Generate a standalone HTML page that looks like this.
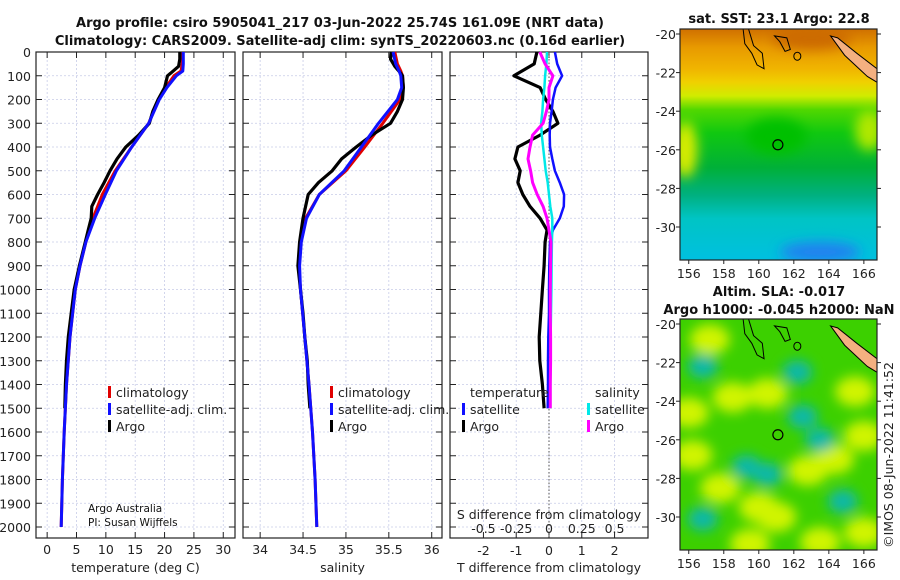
<!DOCTYPE html>
<html><head><meta charset="utf-8"><style>
html,body{margin:0;padding:0;background:#fff;}
svg{display:block;font-family:"DejaVu Sans","Liberation Sans",sans-serif;}
.t{font-size:12.5px;fill:#222;}
.b{font-weight:bold;font-size:13px;fill:#111;}
</style></head><body>
<svg id="fig" width="900" height="580" viewBox="0 0 900 580" xmlns="http://www.w3.org/2000/svg">
<defs>
<filter id="blur" x="-50%" y="-50%" width="200%" height="200%"><feGaussianBlur stdDeviation="6"/></filter>
<linearGradient id="sstg" x1="0" y1="0" x2="0" y2="1">
<stop offset="0" stop-color="#d07000"/><stop offset="0.08" stop-color="#e89a00"/>
<stop offset="0.17" stop-color="#f0b400"/><stop offset="0.23" stop-color="#f0d000"/><stop offset="0.29" stop-color="#d0ec00"/>
<stop offset="0.35" stop-color="#50d800"/><stop offset="0.45" stop-color="#10c810"/>
<stop offset="0.6" stop-color="#00b038"/><stop offset="0.72" stop-color="#00b080"/>
<stop offset="0.82" stop-color="#00c4c4"/><stop offset="1" stop-color="#00c0e0"/>
</linearGradient>
<clipPath id="c1"><rect x="680" y="29" width="197" height="231"/></clipPath>
<clipPath id="c2"><rect x="680" y="319" width="197" height="231"/></clipPath>
</defs>
<text class="b" x="340" y="27" text-anchor="middle">Argo profile: csiro 5905041_217 03-Jun-2022 25.74S 161.09E (NRT data)</text>
<text class="b" x="340" y="45" text-anchor="middle">Climatology: CARS2009. Satellite-adj clim: synTS_20220603.nc (0.16d earlier)</text>
<g id="panels"></g>
<g id="maps"></g>
<text class="t" transform="translate(893,455) rotate(-90)" text-anchor="middle">©IMOS 08-Jun-2022 11:41:52</text>
</svg>
<script>
// ---- data ----
const depthTicks=[0,100,200,300,400,500,600,700,800,900,1000,1100,1200,1300,1400,1500,1600,1700,1800,1900,2000];
const tTicks=[0,5,10,15,20,25,30];
const sTicks=[34,34.5,35,35.5,36];
const dTicks=[-2,-1,0,1,2];
const sdTicks=[-0.5,-0.25,0,0.25,0.5];
const climDepth=[0,50,80,100,150,200,300,400,500,600,700,800,900,1000,1200,1400,1600,1800,2000];
const climT=[23.0,23.0,22.8,21.6,20.2,19.0,17.3,14.4,11.6,9.4,7.8,6.6,5.6,4.8,3.9,3.3,2.9,2.6,2.4];
const satT=[23.2,23.2,23.1,22.0,20.4,19.1,17.3,14.4,11.8,9.9,8.1,6.6,5.6,4.8,3.9,3.3,2.9,2.6,2.4];
const climS=[35.57,35.6,35.64,35.66,35.67,35.63,35.43,35.22,35.0,34.69,34.53,34.47,34.45,34.47,34.52,34.57,34.61,34.64,34.66];
const satS=[35.55,35.58,35.62,35.64,35.65,35.6,35.38,35.18,34.98,34.69,34.54,34.48,34.46,34.47,34.52,34.57,34.61,34.64,34.66];
const argoDepth=[0,30,60,90,100,150,200,250,300,350,400,450,500,550,600,650,700,750,800,900,1000,1100,1200,1300,1400,1500];
const argoT=[22.6,22.6,22.4,21.0,20.5,20.0,18.9,18.0,17.4,15.6,13.4,11.9,10.7,9.7,8.6,7.6,7.5,7.0,6.5,5.5,4.6,4.1,3.6,3.3,3.1,3.0];
const argoS=[35.53,35.52,35.57,35.64,35.66,35.67,35.66,35.6,35.52,35.3,35.12,34.95,34.84,34.68,34.56,34.53,34.5,34.48,34.46,34.44,34.47,34.5,34.52,34.55,34.56,34.58];
const diffDepth=[0,50,100,150,200,250,300,350,400,450,500,550,600,650,700,750,800,900,1000,1100,1200,1300,1400,1500];
const argoTd=[-0.37,-0.45,-1.07,-0.27,-0.1,0.12,0.27,-0.27,-0.95,-1.04,-0.88,-0.95,-0.8,-0.58,-0.27,-0.06,-0.12,-0.15,-0.2,-0.25,-0.3,-0.28,-0.2,-0.15];
const satTd=[0.18,0.25,0.4,0.2,0.12,0.08,0.03,0.02,0.03,0.1,0.18,0.33,0.46,0.45,0.33,0.12,0.03,0.01,0.0,0.0,-0.02,-0.03,-0.03,-0.04];
const satSd=[-0.015,-0.02,-0.03,-0.035,-0.045,-0.05,-0.06,-0.055,-0.045,-0.035,-0.025,-0.01,0,0.01,0.025,0.025,0.022,0.02,0.018,0.015,0.012,0.012,0.01,0.01];
const argoSd=[-0.07,-0.03,0.03,0.0,0.0,-0.02,-0.045,-0.125,-0.145,-0.16,-0.14,-0.125,-0.09,-0.045,-0.015,0.0,0.015,0.012,0.01,0.01,0.012,0.012,0.01,0.01];
const lonTicks=[156,158,160,162,164,166];
const latTicks=[-20,-22,-24,-26,-28,-30];
const argoPos=[161.09,-25.74];

const NS="http://www.w3.org/2000/svg";
function el(tag,attrs,parent){const e=document.createElementNS(NS,tag);for(const k in attrs)e.setAttribute(k,attrs[k]);parent.appendChild(e);return e;}
const P=document.getElementById('panels');
const Y0=52,YPX=0.2375;
const yD=d=>Y0+d*YPX;
const TOP=52,BOT=538;
const panels=[
 {x0:36,x1:235,vmin:-1.9,vmax:32,ticks:tTicks,label:'temperature (deg C)',name:'temperature-panel'},
 {x0:243,x1:442,vmin:33.8,vmax:36.12,ticks:sTicks,label:'salinity',name:'salinity-panel'},
 {x0:450,x1:648,vmin:-3.02,vmax:3.02,ticks:dTicks,label:'T difference from climatology',name:'difference-panel'}
];
function axis(p){return v=>p.x0+(v-p.vmin)/(p.vmax-p.vmin)*(p.x1-p.x0);}
function line(g,xs,ds,sx,color,w,name){
  const pts=xs.map((v,i)=>sx(v).toFixed(1)+','+yD(ds[i]).toFixed(1)).join(' ');
  const e=el('polyline',{points:pts,fill:'none',stroke:color,'stroke-width':w,'stroke-linejoin':'round'},g);
  
  
  return e;
}
panels.forEach((p,pi)=>{
  const g=el('g',{},P);
  
  
  const sx=axis(p);
  depthTicks.forEach(d=>{el('line',{x1:p.x0,x2:p.x1,y1:yD(d),y2:yD(d),stroke:'#c8cce8','stroke-width':0.8,'stroke-dasharray':'2,2'},g);
    el('line',{x1:p.x0,x2:p.x0+6,y1:yD(d),y2:yD(d),stroke:'#222'},g);el('line',{x1:p.x1-6,x2:p.x1,y1:yD(d),y2:yD(d),stroke:'#222'},g);});
  p.ticks.forEach(v=>{el('line',{x1:sx(v),x2:sx(v),y1:TOP,y2:BOT,stroke:'#c8cce8','stroke-width':0.8,'stroke-dasharray':'2,2'},g);
    el('line',{x1:sx(v),x2:sx(v),y1:BOT-6,y2:BOT,stroke:'#222'},g);el('line',{x1:sx(v),x2:sx(v),y1:TOP,y2:TOP+6,stroke:'#222'},g);
    const t=el('text',{x:sx(v),y:pi==2?555:554,'text-anchor':'middle',class:'t'},g);t.textContent=String(v);
    
    
  });
  el('rect',{x:p.x0,y:TOP,width:p.x1-p.x0,height:BOT-TOP,fill:'none',stroke:'#222','stroke-width':1.2},g);
  const lab=el('text',{x:(p.x0+p.x1)/2,y:572,'text-anchor':'middle',class:'t'},g);lab.textContent=p.label;
  
  
  if(pi==0){
    depthTicks.forEach(d=>{const t=el('text',{x:31,y:yD(d)+5,'text-anchor':'end',class:'t'},g);t.textContent=String(d);
      
      });
    line(g,climT,climDepth,sx,'#e00000',3,'climatology-temperature-line');
    line(g,argoT,argoDepth,sx,'#000',3.2,'argo-temperature-line');
    line(g,satT,climDepth,sx,'#1010ff',3,'satellite-temperature-line');
  } else if(pi==1){
    line(g,climS,climDepth,sx,'#e00000',3,'climatology-salinity-line');
    line(g,argoS,argoDepth,sx,'#000',3.2,'argo-salinity-line');
    line(g,satS,climDepth,sx,'#1010ff',3,'satellite-salinity-line');
  } else {
    el('line',{x1:sx(0),x2:sx(0),y1:TOP,y2:BOT,stroke:'#555','stroke-dasharray':'1.5,2'},g);
    line(g,argoTd,diffDepth,sx,'#000',3.2,'argo-temperature-difference-line');
    line(g,satTd,diffDepth,sx,'#1010ff',2.5,'satellite-temperature-difference-line');
    line(g,satSd.map(v=>v*4),diffDepth,sx,'#00e8e8',2.5,'satellite-salinity-difference-line');
    line(g,argoSd.map(v=>v*4),diffDepth,sx,'#ff00ff',3,'argo-salinity-difference-line');
    sdTicks.forEach(v=>{const t=el('text',{x:sx(v*4),y:533,'text-anchor':'middle',class:'t'},g);t.textContent=String(v);
      
      });
    const st=el('text',{x:(p.x0+p.x1)/2,y:519,'text-anchor':'middle',class:'t'},g);st.textContent='S difference from climatology';
    
    
  }
});
function legend(x,y,items,name){
  const g=el('g',{},P);
  
  
  items.forEach((it,i)=>{const yy=y+i*17;
    if(it[1])el('rect',{x:x,y:yy-11,width:3,height:12,fill:it[1]},g);
    const t=el('text',{x:x+(it[1]?8:0),y:yy,class:'t'},g);t.textContent=it[0];});
}
legend(108,397,[['climatology','#e00000'],['satellite-adj. clim.','#1010ff'],['Argo','#000']],'temperature-legend');
legend(330,397,[['climatology','#e00000'],['satellite-adj. clim.','#1010ff'],['Argo','#000']],'salinity-legend');
legend(470,397,[['temperature',null]],'diff-legend-temperature-title');
legend(462,414,[['satellite','#1010ff'],['Argo','#000']],'diff-legend-temperature');
legend(595,397,[['salinity',null]],'diff-legend-salinity-title');
legend(587,414,[['satellite','#00e8e8'],['Argo','#ff00ff']],'diff-legend-salinity');
const cr=el('text',{x:88,y:512,style:'font-size:10.5px;fill:#111'},P);cr.textContent='Argo Australia';


const cr2=el('text',{x:88,y:526,style:'font-size:10.5px;fill:#111'},P);cr2.textContent='PI: Susan Wijffels';



// ---- maps ----
const M=document.getElementById('maps');
const lonMin=155.5,lonMax=166.75;
const yellowBlobs=[[157.2,-20.8],[158.5,-23.8],[160.5,-23.6],[165.5,-23.5],[156.2,-26.8],[157.8,-28.5],[162.8,-27.6],[164.3,-27.0],[160,-29.5],[166,-30.8],[156,-24.6],[163.5,-31.3],[159.5,-31.4],[166,-25.8],[161,-30]];
const tealBlobs=[[156.8,-22.2],[162.2,-22.5],[162.5,-24.8],[159.3,-27.4],[156.8,-30.1],[164.8,-29.2],[163.5,-26],[160.5,-27.8]];
function drawMap(top,title1,title2,kind,name){
  const g=el('g',{},M);
  
  
  const x0=680,x1=877,y0=top,y1=top+231;
  const lx=v=>x0+(v-lonMin)/(lonMax-lonMin)*(x1-x0);
  const ly=v=>(y0+5)+(-20-v)*19.3;
  const clip=kind=='sst'?'url(#c1)':'url(#c2)';
  const inner=el('g',{'clip-path':clip},g);
  if(kind=='sst'){
    el('rect',{x:x0,y:y0,width:x1-x0,height:y1-y0,fill:'url(#sstg)'},inner);
    const b=el('g',{filter:'url(#blur)'},inner);
    el('ellipse',{cx:lx(155.8),cy:ly(-26),rx:12,ry:28,fill:'#d8ec00'},b);
    el('ellipse',{cx:lx(166.3),cy:ly(-25),rx:14,ry:20,fill:'#b0e800'},b);
    el('ellipse',{cx:lx(161),cy:ly(-25.3),rx:30,ry:18,fill:'#00c000'},b);
    el('ellipse',{cx:lx(163.5),cy:ly(-31.3),rx:40,ry:10,fill:'#2080f0'},b);
    el('ellipse',{cx:lx(163),cy:ly(-20.2),rx:40,ry:12,fill:'#cc6a00'},b);
  } else {
    el('rect',{x:x0,y:y0,width:x1-x0,height:y1-y0,fill:'#3cd000'},inner);
    const b=el('g',{filter:'url(#blur)'},inner);
    yellowBlobs.forEach(p=>el('ellipse',{cx:lx(p[0]),cy:ly(p[1]),rx:20,ry:15,fill:'#d0f400'},b));
    tealBlobs.forEach(p=>el('ellipse',{cx:lx(p[0]),cy:ly(p[1]),rx:15,ry:12,fill:'#10b8a8'},b));
  }
  el('path',{d:`M${lx(164.1)} ${ly(-20.1)} L${lx(164.5)} ${ly(-20.2)} L${lx(165.6)} ${ly(-21)} L${lx(166.75)} ${ly(-21.8)} L${lx(166.75)} ${ly(-22.5)} L${lx(166.2)} ${ly(-22.2)} L${lx(164.9)} ${ly(-21.1)} Z`,fill:'#f4b080',stroke:'#000','stroke-width':1},inner);
  el('path',{d:`M${lx(159.4)} ${ly(-19.7)} L${lx(159.7)} ${ly(-20.6)} L${lx(160.2)} ${ly(-21)} L${lx(160.3)} ${ly(-21.8)} L${lx(159.9)} ${ly(-21.6)} L${lx(159.6)} ${ly(-21)} L${lx(159.2)} ${ly(-20.5)} L${lx(159.1)} ${ly(-19.7)}`,fill:'none',stroke:'#000','stroke-width':1},inner);
  el('path',{d:`M${lx(160.9)} ${ly(-20.1)} L${lx(161.6)} ${ly(-20.2)} L${lx(161.8)} ${ly(-20.8)} L${lx(161.5)} ${ly(-20.9)} L${lx(161.2)} ${ly(-20.4)} Z`,fill:'none',stroke:'#000','stroke-width':1},inner);
  el('ellipse',{cx:lx(162.2),cy:ly(-21.15),rx:3.5,ry:4,fill:'none',stroke:'#000','stroke-width':1},inner);
  el('circle',{cx:lx(argoPos[0]),cy:ly(argoPos[1]),r:5,fill:'none',stroke:'#000','stroke-width':1.2},inner);
  el('rect',{x:x0,y:y0,width:x1-x0,height:y1-y0,fill:'none',stroke:'#222','stroke-width':1.2},g);
  latTicks.forEach(v=>{el('line',{x1:x1,x2:x1+4,y1:ly(v),y2:ly(v),stroke:'#222'},g);el('line',{x1:x0-4,x2:x0,y1:ly(v),y2:ly(v),stroke:'#222'},g);
    const t=el('text',{x:x0-4,y:ly(v)+5,'text-anchor':'end',class:'t'},g);t.textContent=String(v);
    
    });
  lonTicks.forEach(v=>{el('line',{x1:lx(v),x2:lx(v),y1:y1,y2:y1+4,stroke:'#222'},g);
    const t=el('text',{x:lx(v),y:y1+18,'text-anchor':'middle',class:'t'},g);t.textContent=String(v);
    
    });
  if(title2){const t=el('text',{x:779,y:y0-23,'text-anchor':'middle',class:'b'},g);t.textContent=title1;
    const t2=el('text',{x:779,y:y0-5,'text-anchor':'middle',class:'b'},g);t2.textContent=title2;}
  else{const t=el('text',{x:779,y:y0-6,'text-anchor':'middle',class:'b'},g);t.textContent=title1;}
}
drawMap(29,'sat. SST: 23.1 Argo: 22.8',null,'sst','sst-map');
drawMap(319,'Altim. SLA: -0.017','Argo h1000: -0.045 h2000: NaN','sla','sla-map');
</script>
</body></html>
